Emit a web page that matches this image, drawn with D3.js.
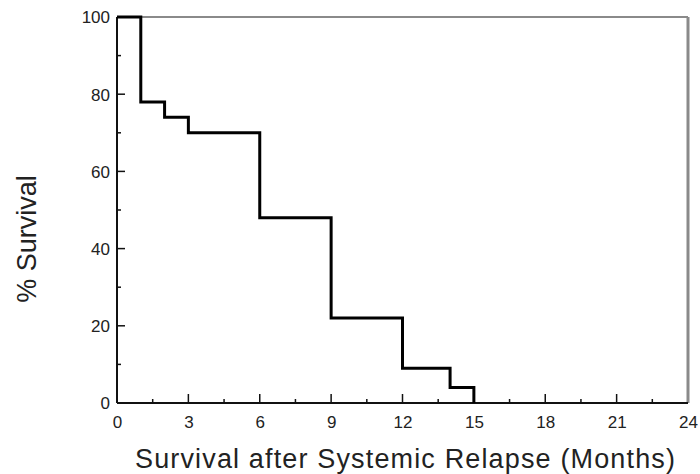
<!DOCTYPE html>
<html>
<head>
<meta charset="utf-8">
<script src="https://cdn.jsdelivr.net/npm/d3@7"></script>
<style>
  body { margin: 0; background: #fff; }
  svg text { font-family: "Liberation Sans", Arial, sans-serif; fill: #222; }
</style>
</head>
<body>
<svg id="graphe" width="700" height="474"></svg>
<script>
// Données (mois, % de survie)
const mois = [0, 1, 2, 3, 6, 9, 12, 14, 15]
const survie = [100, 78, 74, 70, 48, 22, 9, 4, 0]
const ticksX = [0, 3, 6, 9, 12, 15, 18, 21, 24]
const ticksY = [0, 20, 40, 60, 80, 100]

const svg = d3.select("#graphe")
const gauche = 117, droite = 688, haut = 17, bas = 403

const x = d3.scaleLinear().domain([0, 24]).range([gauche, droite])
const y = d3.scaleLinear().domain([0, 100]).range([bas, haut])

// cadre gris en haut et à droite
svg.append("line")
    .attr("x1", gauche).attr("y1", haut).attr("x2", droite).attr("y2", haut)
    .style("stroke", "#8a8a8a").style("stroke-width", 2)
svg.append("line")
    .attr("x1", droite).attr("y1", haut).attr("x2", droite).attr("y2", bas)
    .style("stroke", "#8a8a8a").style("stroke-width", 3)

// petits taquets (tous les 1,5 mois et tous les 10 %)
const mineursX = d3.range(1.5, 24, 3)
const mineursY = d3.range(10, 100, 20)

const axeX = d3.axisBottom(x).tickValues(ticksX).tickSize(0).tickPadding(0)
const gX = svg.append("g").attr("transform", `translate(0,${bas})`).call(axeX)
gX.select(".domain").remove()
gX.selectAll(".tick text").attr("y", 25).style("font-size", "17px").attr("dy", null)

const axeY = d3.axisLeft(y).tickValues(ticksY).tickSize(0).tickPadding(0)
const gY = svg.append("g").attr("transform", `translate(${gauche},0)`).call(axeY)
gY.select(".domain").remove()
gY.selectAll(".tick text").attr("x", -7).attr("dy", "0.35em").style("font-size", "17px")

// taquets vers l'intérieur
svg.selectAll(".majX").data(ticksX.slice(1, -1)).join("line")
    .attr("x1", d => x(d)).attr("x2", d => x(d))
    .attr("y1", bas).attr("y2", bas - 9)
    .style("stroke", "#111").style("stroke-width", 1.5)
svg.selectAll(".minX").data(mineursX).join("line")
    .attr("x1", d => x(d)).attr("x2", d => x(d))
    .attr("y1", bas).attr("y2", bas - 4)
    .style("stroke", "#111").style("stroke-width", 1.5)
svg.selectAll(".majY").data(ticksY.slice(1, -1)).join("line")
    .attr("x1", gauche).attr("x2", gauche + 8)
    .attr("y1", d => y(d)).attr("y2", d => y(d))
    .style("stroke", "#111").style("stroke-width", 1.5)
svg.selectAll(".minY").data(mineursY).join("line")
    .attr("x1", gauche).attr("x2", gauche + 4)
    .attr("y1", d => y(d)).attr("y2", d => y(d))
    .style("stroke", "#111").style("stroke-width", 1.5)

// axes noirs
svg.append("line")
    .attr("x1", gauche).attr("y1", bas).attr("x2", droite).attr("y2", bas)
    .style("stroke", "#111").style("stroke-width", 2)
svg.append("line")
    .attr("x1", gauche).attr("y1", haut).attr("x2", gauche).attr("y2", bas)
    .style("stroke", "#111").style("stroke-width", 2)

// courbe de survie en escalier
const ligne = d3.line()
    .x((d, i) => x(mois[i]))
    .y((d, i) => y(survie[i]))
    .curve(d3.curveStepAfter)
svg.append("path")
    .datum(mois)
    .attr("d", ligne)
    .attr("fill", "none")
    .style("stroke", "#000")
    .style("stroke-width", 3)

// titres des axes
svg.append("text")
    .attr("x", 405).attr("y", 468)
    .attr("text-anchor", "middle")
    .attr("textLength", 540).attr("lengthAdjust", "spacing")
    .style("font-size", "27px")
    .text("Survival after Systemic Relapse (Months)")
svg.append("text")
    .attr("transform", "translate(36,239) rotate(-90)")
    .attr("text-anchor", "middle")
    .style("font-size", "27px")
    .text("% Survival")
</script>
</body>
</html>
